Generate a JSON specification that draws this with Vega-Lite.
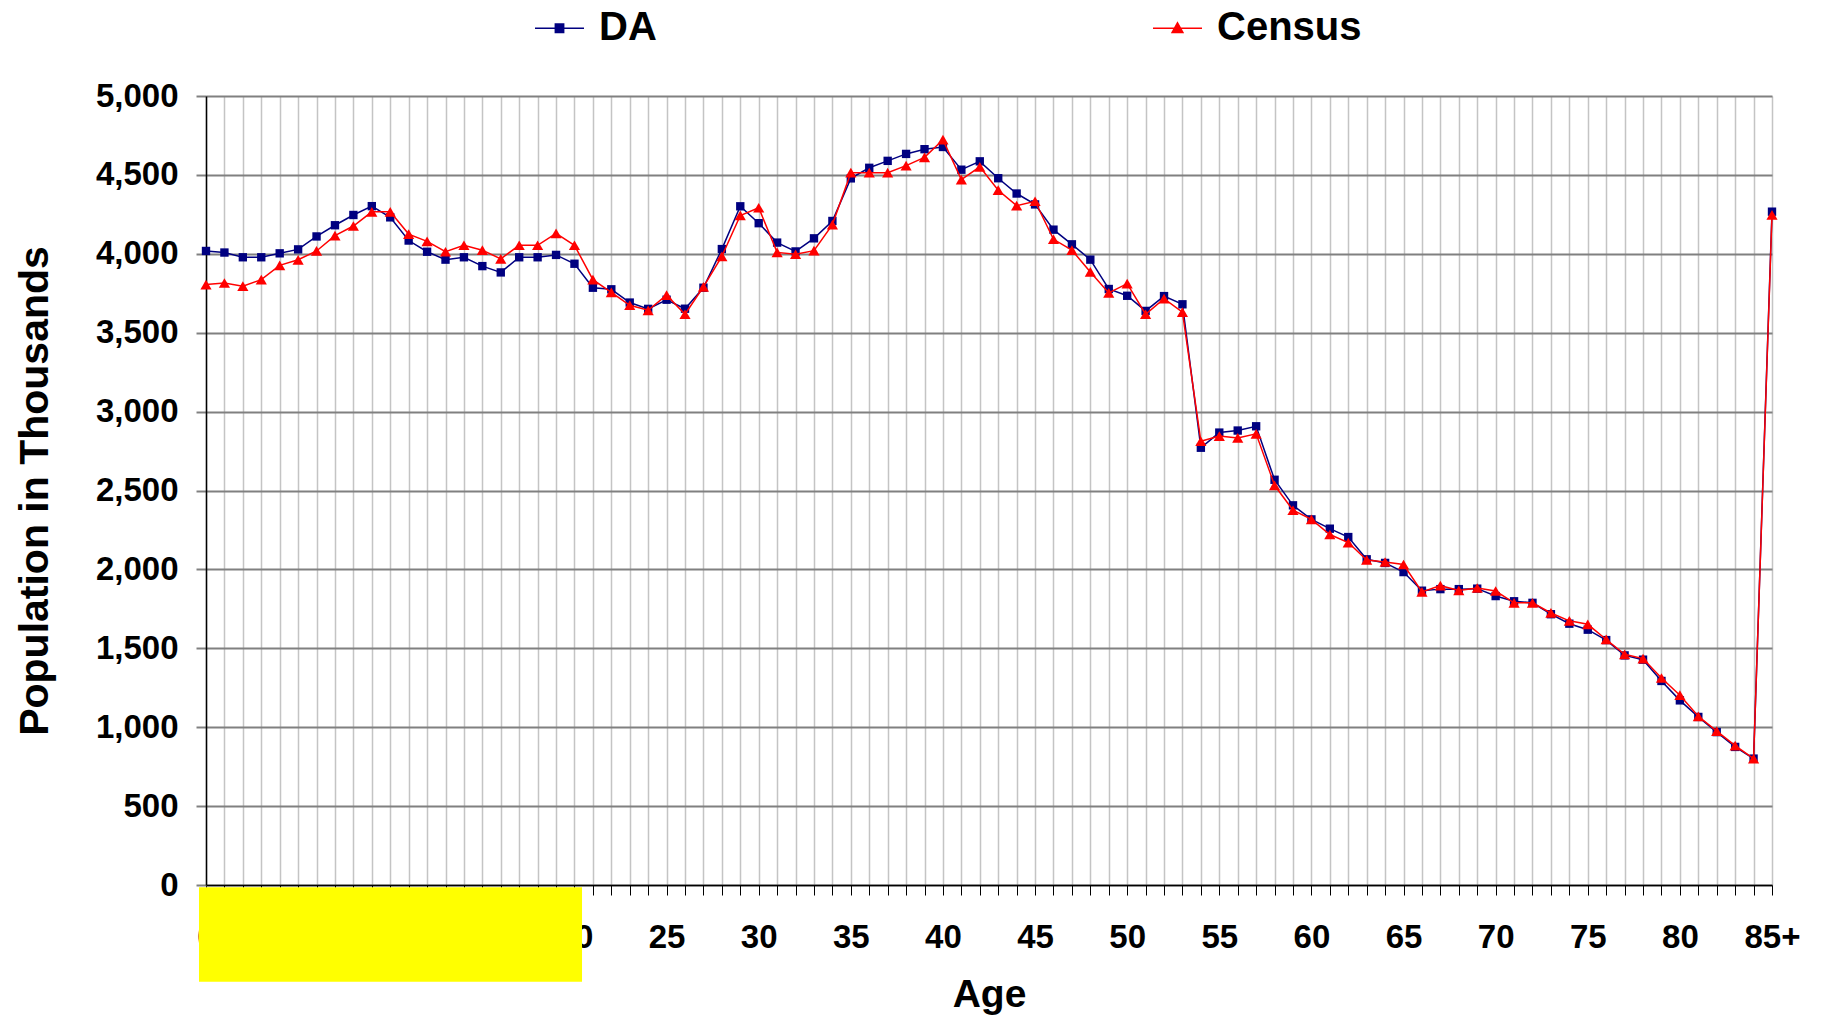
{
  "$schema": "https://vega.github.io/schema/vega-lite/v6.json",
  "width": 1566,
  "height": 789,
  "autosize": {"type": "none"},
  "padding": {"left": 206, "top": 96, "right": 54, "bottom": 132},
  "background": "#ffffff",
  "config": {
    "view": {"stroke": null},
    "font": "Liberation Sans",
    "axis": {"labelFont": "Liberation Sans", "titleFont": "Liberation Sans"}
  },
  "data": {
    "values": [
      {"age": 0, "DA": 4018, "Census": 3805},
      {"age": 1, "DA": 4008, "Census": 3815},
      {"age": 2, "DA": 3978, "Census": 3795},
      {"age": 3, "DA": 3978, "Census": 3836},
      {"age": 4, "DA": 4003, "Census": 3927},
      {"age": 5, "DA": 4028, "Census": 3962},
      {"age": 6, "DA": 4110, "Census": 4018},
      {"age": 7, "DA": 4181, "Census": 4115},
      {"age": 8, "DA": 4246, "Census": 4176},
      {"age": 9, "DA": 4302, "Census": 4266},
      {"age": 10, "DA": 4231, "Census": 4266},
      {"age": 11, "DA": 4084, "Census": 4125},
      {"age": 12, "DA": 4013, "Census": 4079},
      {"age": 13, "DA": 3963, "Census": 4013},
      {"age": 14, "DA": 3978, "Census": 4054},
      {"age": 15, "DA": 3922, "Census": 4023},
      {"age": 16, "DA": 3882, "Census": 3968},
      {"age": 17, "DA": 3978, "Census": 4054},
      {"age": 18, "DA": 3978, "Census": 4054},
      {"age": 19, "DA": 3993, "Census": 4130},
      {"age": 20, "DA": 3937, "Census": 4054},
      {"age": 21, "DA": 3785, "Census": 3836},
      {"age": 22, "DA": 3775, "Census": 3755},
      {"age": 23, "DA": 3691, "Census": 3674},
      {"age": 24, "DA": 3651, "Census": 3642},
      {"age": 25, "DA": 3709, "Census": 3738},
      {"age": 26, "DA": 3652, "Census": 3617},
      {"age": 27, "DA": 3785, "Census": 3790},
      {"age": 28, "DA": 4030, "Census": 3984},
      {"age": 29, "DA": 4301, "Census": 4243},
      {"age": 30, "DA": 4194, "Census": 4292},
      {"age": 31, "DA": 4071, "Census": 4009},
      {"age": 32, "DA": 4015, "Census": 3997},
      {"age": 33, "DA": 4098, "Census": 4020},
      {"age": 34, "DA": 4208, "Census": 4185},
      {"age": 35, "DA": 4478, "Census": 4514},
      {"age": 36, "DA": 4545, "Census": 4514},
      {"age": 37, "DA": 4589, "Census": 4514},
      {"age": 38, "DA": 4633, "Census": 4559},
      {"age": 39, "DA": 4663, "Census": 4611},
      {"age": 40, "DA": 4677, "Census": 4723},
      {"age": 41, "DA": 4533, "Census": 4470},
      {"age": 42, "DA": 4586, "Census": 4551},
      {"age": 43, "DA": 4479, "Census": 4403},
      {"age": 44, "DA": 4382, "Census": 4305},
      {"age": 45, "DA": 4313, "Census": 4333},
      {"age": 46, "DA": 4153, "Census": 4092},
      {"age": 47, "DA": 4060, "Census": 4023},
      {"age": 48, "DA": 3963, "Census": 3885},
      {"age": 49, "DA": 3777, "Census": 3752},
      {"age": 50, "DA": 3734, "Census": 3811},
      {"age": 51, "DA": 3638, "Census": 3617},
      {"age": 52, "DA": 3732, "Census": 3716},
      {"age": 53, "DA": 3680, "Census": 3630},
      {"age": 54, "DA": 2771, "Census": 2812},
      {"age": 55, "DA": 2867, "Census": 2845},
      {"age": 56, "DA": 2880, "Census": 2833},
      {"age": 57, "DA": 2907, "Census": 2859},
      {"age": 58, "DA": 2568, "Census": 2533},
      {"age": 59, "DA": 2406, "Census": 2375},
      {"age": 60, "DA": 2317, "Census": 2317},
      {"age": 61, "DA": 2258, "Census": 2221},
      {"age": 62, "DA": 2205, "Census": 2170},
      {"age": 63, "DA": 2064, "Census": 2060},
      {"age": 64, "DA": 2041, "Census": 2047},
      {"age": 65, "DA": 1983, "Census": 2031},
      {"age": 66, "DA": 1865, "Census": 1857},
      {"age": 67, "DA": 1875, "Census": 1897},
      {"age": 68, "DA": 1875, "Census": 1867},
      {"age": 69, "DA": 1878, "Census": 1882},
      {"age": 70, "DA": 1831, "Census": 1863},
      {"age": 71, "DA": 1798, "Census": 1788},
      {"age": 72, "DA": 1788, "Census": 1788},
      {"age": 73, "DA": 1716, "Census": 1724},
      {"age": 74, "DA": 1656, "Census": 1674},
      {"age": 75, "DA": 1618, "Census": 1652},
      {"age": 76, "DA": 1552, "Census": 1556},
      {"age": 77, "DA": 1455, "Census": 1462},
      {"age": 78, "DA": 1428, "Census": 1435},
      {"age": 79, "DA": 1293, "Census": 1312},
      {"age": 80, "DA": 1170, "Census": 1203},
      {"age": 81, "DA": 1065, "Census": 1069},
      {"age": 82, "DA": 969, "Census": 975},
      {"age": 83, "DA": 875, "Census": 883},
      {"age": 84, "DA": 801, "Census": 801},
      {"age": 85, "DA": 4267, "Census": 4247}
    ]
  },
  "transform": [{"fold": ["DA", "Census"], "as": ["series", "pop"]}],
  "encoding": {
    "x": {
      "field": "age", "type": "quantitative", "title": "Age",
      "scale": {"domain": [0, 85], "nice": false, "zero": false},
      "axis": {
        "values": [0,1,2,3,4,5,6,7,8,9,10,11,12,13,14,15,16,17,18,19,20,21,22,23,24,25,26,27,28,29,30,31,32,33,34,35,36,37,38,39,40,41,42,43,44,45,46,47,48,49,50,51,52,53,54,55,56,57,58,59,60,61,62,63,64,65,66,67,68,69,70,71,72,73,74,75,76,77,78,79,80,81,82,83,84,85],
        "format": "d",
        "labelExpr": "datum.value == 85 ? '85+' : (datum.value % 5 == 0 ? datum.label : '')",
        "labelOverlap": false, "labelFlush": false, "labelBound": false,
        "labelFontSize": 33, "labelFontWeight": "bold", "labelColor": "#000000",
        "labelPadding": 26,
        "grid": true, "gridColor": "#c4c4c4", "gridWidth": 1.5,
        "domainColor": "#000000", "domainWidth": 1.5,
        "ticks": true, "tickColor": "#000000", "tickSize": 10, "tickWidth": 1,
        "titleFontSize": 39, "titleFontWeight": "bold", "titleColor": "#000000",
        "titlePadding": 21
      }
    },
    "y": {
      "field": "pop", "type": "quantitative", "title": "Population in Thousands",
      "scale": {"domain": [0, 5000], "nice": false},
      "axis": {
        "values": [0,500,1000,1500,2000,2500,3000,3500,4000,4500,5000],
        "format": ",.0f",
        "labelFontSize": 33, "labelFontWeight": "bold", "labelColor": "#000000",
        "labelPadding": 18,
        "grid": true, "gridColor": "#808080", "gridWidth": 2,
        "domainColor": "#000000", "domainWidth": 1.5,
        "tickColor": "#808080", "tickSize": 10, "tickWidth": 2,
        "titleFontSize": 41, "titleFontWeight": "bold", "titleColor": "#000000",
        "titlePadding": 39
      }
    }
  },
  "layer": [
    {
      "transform": [{"filter": "datum.series === 'DA'"}],
      "mark": {"type": "line", "strokeWidth": 1.5},
      "encoding": {
        "color": {
          "field": "series", "type": "nominal",
          "scale": {"domain": ["DA", "Census"], "range": ["#000080", "#ff0000"]},
          "legend": {
            "title": null,
            "orient": "none",
            "legendX": 328,
            "legendY": -93.5,
            "direction": "horizontal",
            "columns": 2,
            "columnPadding": 493,
            "padding": 0,
            "labelFont": "Liberation Sans",
            "labelFontSize": 40,
            "labelFontWeight": "bold",
            "labelColor": "#000000",
            "labelOffset": 14,
            "symbolSize": 2401,
            "symbolStrokeWidth": 1.5,
            "encode": {
              "symbols": {
                "update": {
                  "shape": {"signal": "datum.value === 'DA' ? 'M-1,0L1,0M-0.17,-0.17L0.17,-0.17L0.17,0.17L-0.17,0.17Z' : 'M-1,0L1,0M0,-0.22L0.22,0.17L-0.22,0.17Z'"},
                  "fill": {"signal": "datum.value === 'DA' ? '#000080' : '#ff0000'"},
                  "stroke": {"signal": "datum.value === 'DA' ? '#000080' : '#ff0000'"},
                  "strokeWidth": {"value": 1.5},
                  "opacity": {"value": 1},
                  "fillOpacity": {"value": 1}
                }
              }
            }
          }
        }
      }
    },
    {
      "transform": [{"filter": "datum.series === 'DA'"}],
      "mark": {"type": "point", "shape": "square", "filled": true, "size": 70, "opacity": 1},
      "encoding": {
        "color": {"field": "series", "type": "nominal"}
      }
    },
    {
      "transform": [{"filter": "datum.series === 'Census'"}],
      "mark": {"type": "line", "strokeWidth": 1.5},
      "encoding": {
        "color": {"field": "series", "type": "nominal"}
      }
    },
    {
      "transform": [{"filter": "datum.series === 'Census'"}],
      "mark": {"type": "point", "shape": "triangle-up", "filled": true, "size": 125, "opacity": 1},
      "encoding": {
        "color": {"field": "series", "type": "nominal"}
      }
    },
    {
      "data": {"values": [{"age": -0.38, "age2": 20.41, "pop": -15, "pop2": -613}]},
      "mark": {"type": "rect", "color": "#ffff00", "clip": false},
      "encoding": {
        "x2": {"field": "age2"},
        "y2": {"field": "pop2"}
      }
    }
  ]
}
